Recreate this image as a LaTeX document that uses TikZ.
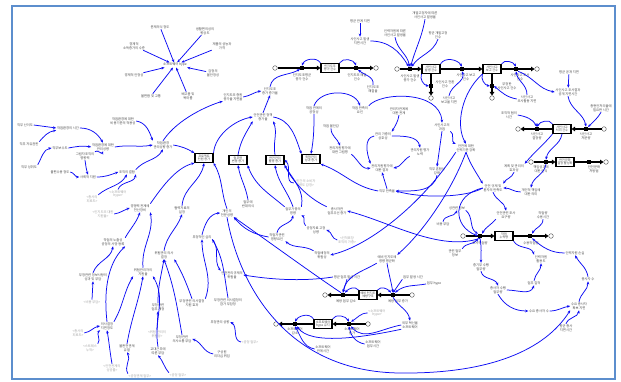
\documentclass[tikz,border=0pt]{standalone}
\usepackage{fontspec}
\setmainfont{Noto Sans CJK KR}
\usetikzlibrary{arrows.meta}
\definecolor{framecol}{RGB}{92,142,205}
\definecolor{linkcol}{RGB}{12,12,245}
\definecolor{txt}{RGB}{72,72,72}
\definecolor{ghost}{RGB}{165,165,165}
\tikzset{
  lbl/.style={font=\fontsize{3.3}{3.9}\selectfont, text=txt, align=center, inner sep=0.6pt},
  ghostlbl/.style={lbl, text=ghost},
  stockbox/.style={draw=black, line width=1.1pt, fill=white, minimum width=18pt, minimum height=9pt,
    inner sep=0.5pt, font=\fontsize{3.1}{3.6}\selectfont, text=txt, align=center},
  valve/.style={fill=black, minimum width=3.6pt, minimum height=4.2pt, inner sep=0pt},
  cloudc/.style={circle, draw=black!70, line width=0.4pt, fill=white, minimum size=4.6pt, inner sep=0pt},
  pipe/.style={line width=2pt, black, -{Triangle[length=3.5pt,width=4.6pt]}},
  lnk/.style={linkcol, line width=0.75pt, -{Stealth[length=3.2pt,width=2.6pt]}},
}
\begin{document}
\begin{tikzpicture}[x=1pt,y=1pt]
\useasboundingbox (0,0) rectangle (621,-382);
\fill[white] (0,0) rectangle (621,-382);
\draw[framecol, line width=2.6pt] (12,-6) rectangle (615,-379);

% ---------- hype star ----------
\node[lbl] (hub) at (175,-65) {소프트웨어 hype};
\node[lbl] (st1) at (160,-27) {문제의식 정도};
\node[lbl] (st2) at (205,-31) {생활편의성의\\향상도};
\node[lbl] (st3) at (222,-46) {제품의 성능과\\가격};
\node[lbl] (st4) at (134,-46) {경제적\\소득증가의 수준};
\node[lbl] (st5) at (134,-75) {경제적 안정성};
\node[lbl] (st6) at (151,-96) {불편함 및 고통};
\node[lbl] (st7) at (188,-96) {배고픔 및\\목마름};
\node[lbl] (st8) at (213,-73) {감정의\\불안정성};
\foreach \i in {1,...,8} \draw[lnk] (st\i) -- (hub);

% ---------- stocks, clouds ----------
\node[cloudc] (cA1) at (275,-68) {};
\node[stockbox] (SA) at (330,-68) {인지도조\\평가 건수};
\node[cloudc] (cA2) at (376,-68) {};
\node[cloudc] (cB1) at (397,-69) {};
\node[stockbox] (SB) at (431,-69) {사인사고\\발생 건수};
\node[cloudc] (cB2) at (431,-98) {};
\node[stockbox] (SC) at (492,-69) {사인사고\\보고 건수};
\node[cloudc] (cC1) at (537,-69) {};
\node[cloudc] (cC2) at (492,-98) {};
\node[stockbox] (SD) at (562,-129) {사인사고\\처리 건수};
\node[cloudc] (cD1) at (604,-129) {};
\node[cloudc] (cD2) at (518,-129) {};
\node[stockbox] (SE) at (565,-162) {안전문화\\결정 활성화};
\node[cloudc] (cE1) at (531,-162) {};
\node[cloudc] (cE2) at (606,-162) {};
\node[stockbox] (SF) at (504,-236) {작업\\누락량};
\node[cloudc] (cF1) at (463,-236) {};
\node[cloudc] (cF2) at (551,-236) {};
\node[stockbox] (SG) at (368,-295) {예비 인지도\\예방구조};
\node[cloudc] (cG1) at (412,-295) {};
\node[cloudc] (cG2) at (325,-295) {};
\node[stockbox] (SH) at (323,-324) {소프트웨어\\hype 유지};
\node[cloudc] (cH1) at (368,-324) {};
\node[cloudc] (cH2) at (276,-324) {};
\node[stockbox] (B1) at (204,-158) {프로젝트\\인원 증가};
\node[stockbox] (B2) at (238,-160) {업무량\\변동 증가};
\node[stockbox] (B3) at (275,-160) {안전관리\\활동 증가};
\node[stockbox] (B4) at (311,-159) {위험관리\\성과 증가};

% ---------- pipes ----------
\draw[pipe] (cA1) -- (SA);
\draw[pipe] (SA) -- (cA2);
\draw[pipe] (cB1) -- (SB);
\draw[pipe] (SB) -- (SC);
\draw[pipe] (SB) -- (cB2);
\draw[pipe] (SC) -- (cC1);
\draw[pipe] (SC) -- (cC2);
\draw[pipe] (cD1) -- (SD);
\draw[pipe] (SD) -- (cD2);
\draw[pipe] (cE1) -- (SE);
\draw[pipe] (SE) -- (cE2);
\draw[pipe] (cF1) -- (SF);
\draw[pipe] (SF) -- (cF2);
\draw[pipe] (cG1) -- (SG);
\draw[pipe] (SG) -- (cG2);
\draw[pipe] (cH1) -- (SH);
\draw[pipe] (SH) -- (cH2);

% ---------- valves ----------
\node[valve] (vA1) at (302,-68) {};
\node[valve] (vA2) at (356,-68) {};
\node[valve] (vB1) at (410,-69) {};
\node[valve] (vB2) at (431,-86) {};
\node[valve] (vB3) at (462,-69) {};
\node[valve] (vC1) at (516,-69) {};
\node[valve] (vC2) at (492,-86) {};
\node[valve] (vD1) at (586,-129) {};
\node[valve] (vD2) at (537,-129) {};
\node[valve] (vE1) at (546,-162) {};
\node[valve] (vE2) at (589,-162) {};
\node[valve] (vF1) at (480,-236) {};
\node[valve] (vF2) at (530,-236) {};
\node[valve] (vG1) at (393,-295) {};
\node[valve] (vG2) at (343,-295) {};
\node[valve] (vH1) at (349,-324) {};
\node[valve] (vH2) at (295,-324) {};

% ---------- flow labels ----------
\node[lbl] at (302,-77) {인지도조평균\\증가 건수};
\node[lbl] at (357,-77) {인지도조 해결\\건수};
\node[lbl] at (410,-78) {사인사고 발생\\증가 건수};
\node[lbl] at (445,-84) {사인사고 전환\\건수};
\node[lbl] at (466,-77) {사인사고 보고\\건수};
\node[lbl] at (520,-77) {사인사고 조사\\건수};
\node[lbl] at (507,-86) {부정한\\사인사고 건수};
\node[lbl] at (586,-136) {사인사고\\처분량};
\node[lbl] at (537,-136) {사인사고\\결정량};
\node[lbl] at (541,-169) {책임성과에\\대한 인식};
\node[lbl] at (594,-169) {안전문화\\처방법};
\node[lbl] at (480,-243) {조사작업량};
\node[lbl] at (531,-243) {수용작업량};
\node[lbl] at (346,-301) {예방 업무 감소};
\node[lbl] at (398,-301) {예방 업무 증가};
\node[lbl] at (295,-331) {소프트웨어\\감소};
\node[lbl] at (352,-331) {소프트웨어\\증가};

% ---------- top variables ----------
\node[lbl] (c7) at (270,-91) {인지도조\\증가 증가율};
\node[lbl] (c8) at (233,-97) {인지도조 증원\\증가율 지연율};
\node[lbl] (c9) at (263,-117) {안전관련 정책\\증가율};
\node[lbl] (t1) at (373,-89) {인지도조\\해결율};
\node[lbl] (t2) at (360,-21) {평균 관계 지연};
\node[lbl] (t3) at (360,-41) {사인사고 발생\\지연시간};
\node[lbl] (t4) at (395,-33) {인력자원에 따른\\사인사고 발생율};
\node[lbl] (t5) at (425,-15) {개발고정자에 따른\\사인사고 발생율};
\node[lbl] (t6) at (438,-35) {평균 개발고정\\건수};
\node[lbl] (t7) at (527,-99) {사인사고\\조사활동 지연};
\node[lbl] (t8) at (449,-100) {사인사고\\보고율 지연};
\node[lbl] (t9) at (569,-72) {평균 공개 지연};
\node[lbl] (t10) at (568,-92) {사인사고 조사결과\\공개 지연시간};
\node[lbl] (t11) at (601,-108) {총현안처리율에\\필요한 시간};
\node[lbl] (t12) at (509,-115) {조직적 협의\\시간};

% ---------- middle variables ----------
\node[lbl] (m1) at (314,-110) {작업 관계의\\공정성};
\node[lbl] (m2) at (360,-110) {작업 만족의\\요인};
\node[lbl] (m3) at (331,-126) {작업 불안감};
\node[lbl] (m4) at (399,-111) {관리자관계에\\대한 관계};
\node[lbl] (m5) at (383,-136) {관리 가중의\\상호성};
\node[lbl] (m6) at (340,-150) {관리자원평가에\\대한 그림평};
\node[lbl] (m7) at (420,-152) {관리자원 평가\\노력};
\node[lbl] (m8) at (382,-168) {관리자원평가에\\대한 결과};
\node[lbl] (m9) at (437,-171) {직무 혼합성\\강화};
\node[lbl] (m10) at (387,-191) {직무 만족율};
\node[lbl] (m12) at (442,-127) {사인사고의\\과업};
\node[lbl] (m13) at (466,-148) {안전에 대한\\인력기준 강화};
\node[lbl] (m14) at (337,-211) {총사자관\\업무우선 증가};
\node[ghostlbl] (g13) at (347,-240) {<인적표장\\조직의 가중>};
\node[lbl] (m16) at (316,-230) {공정자료 고정\\성향};
\node[lbl] (n1) at (322,-255) {작업배정의\\위험성};
\node[lbl] (m17) at (455,-253) {관련 업무\\정보};
\node[lbl] (m18) at (457,-208) {성관련 정보};
\node[lbl] (m19) at (443,-224) {비용 부담};

% ---------- right variables ----------
\node[lbl] (r1) at (514,-168) {계획 및 관리의\\효과성};
\node[lbl] (r3) at (493,-188) {안전 규제 및\\환자의 만족도};
\node[lbl] (r4) at (531,-192) {개인적 책임에\\대한 의미};
\node[lbl] (r5) at (506,-215) {안전관련 조사\\요구량};
\node[lbl] (r6) at (543,-215) {작업량\\수용시간};
\node[lbl] (r7) at (575,-253) {인력자원 손실};
\node[lbl] (r8) at (541,-259) {인력자원\\활용도};
\node[lbl] (r9) at (481,-267) {중기부 수행\\업무량};
\node[lbl] (r10) at (498,-290) {종사자 수행\\업무량};
\node[lbl] (r11) at (534,-283) {업무 질적};
\node[lbl] (r12) at (588,-279) {종사자 수};
\node[lbl] (r13) at (539,-311) {수요 종사자 수};
\node[lbl] (r14) at (579,-306) {수요 종사자\\확보 지연};
\node[lbl] (r15) at (566,-328) {평균 종사\\지연시간};

% ---------- centre variables ----------
\node[lbl] (c1) at (182,-210) {협력자료의\\설정};
\node[lbl] (c2) at (227,-213) {개인의\\전문성향};
\node[lbl] (c3) at (248,-204) {업무에\\반대의식};
\node[lbl] (c4) at (293,-211) {업무가중의\\영향};
\node[ghostlbl] (g12) at (305,-183) {<민간의 소비자\\영향도 감정>};
\node[lbl] (c5) at (277,-237) {작업자관련\\영향요인};
\node[lbl] (c6) at (202,-237) {부정적인 심리};

% ---------- left variables ----------
\node[lbl] (l1) at (25,-125) {직무 난이도};
\node[lbl] (l2) at (68,-128) {작업환경의 시간};
\node[lbl] (l3) at (29,-144) {직무 자유권한};
\node[lbl] (l4) at (29,-167) {직무 성취도};
\node[lbl] (l5) at (60,-148) {직무보수도};
\node[lbl] (l6) at (103,-147) {작업환경에 대한\\관리성향};
\node[lbl] (l7) at (123,-121) {작업환경에 대한\\비용기준의 적용성};
\node[lbl] (l8) at (85,-156) {그림자조직의\\영향력};
\node[lbl] (l9) at (60,-172) {불편수용 정도};
\node[lbl] (l10) at (88,-177) {사회적 지원};
\node[lbl] (l11) at (127,-172) {조직의 결합};
\node[lbl] (l12) at (163,-145) {작업환경\\관리성향 증가};
\node[ghostlbl] (g1) at (92,-199) {<총사의\\피로도>};
\node[ghostlbl] (g2) at (118,-194) {<소프트웨어\\hype>};
\node[ghostlbl] (g3) at (103,-214) {<인지도조 대한\\지원율>};
\node[lbl] (l13) at (140,-208) {경쟁력 관계에\\전산장비};
\node[lbl] (l14) at (113,-242) {작업의 노출성\\공정의 사망 등록};
\node[lbl] (l15) at (143,-272) {위험관리자의\\지원율};
\node[lbl] (l16) at (93,-277) {부정관련 정보사항의\\성과 및 부담};
\node[ghostlbl] (g4) at (92,-302) {<비용 부담>};
\node[lbl] (l17) at (107,-326) {의사결정\\지연정도};
\node[ghostlbl] (g5) at (78,-333) {<총사의\\피로도>};
\node[ghostlbl] (g6) at (90,-348) {<스트레스\\누적>};
\node[ghostlbl] (g7) at (112,-368) {<안전관계의\\성공률>};
\node[lbl] (l18) at (127,-348) {불완전관계\\유발};
\node[ghostlbl] (g8) at (140,-376) {<공정관계 업무>};
\node[ghostlbl] (g9) at (157,-334) {<위험 관리의\\위험성>};
\node[lbl] (l19) at (158,-351) {교대근무에\\따른 부담};
\node[lbl] (l20) at (164,-255) {위험관리 의사\\결정};
\node[lbl] (l21) at (158,-307) {부정관련\\업무 개정};
\node[lbl] (l22) at (192,-303) {부정관련 의사결정\\지원 효과};
\node[lbl] (l23) at (182,-339) {부정관련\\의사소통 부담};
\node[lbl] (l24) at (228,-302) {부정관련 의사결정의\\참가 부담정};
\node[lbl] (l25) at (220,-322) {부정관리 성향};
\node[ghostlbl] (g10) at (250,-342) {<공정 업무>};
\node[lbl] (l26) at (222,-354) {구성원\\리더십 위임};
\node[ghostlbl] (g11) at (178,-375) {<공정 업무>};
\node[lbl] (l27) at (232,-275) {안전관리규제의\\위험율};

% ---------- lower centre variables ----------
\node[lbl] (u1) at (387,-259) {예비 인지도에\\영향 평균화};
\node[lbl] (u2) at (347,-277) {평균 업무 발생 시간};
\node[lbl] (u3) at (413,-277) {업무 발생 시간};
\node[lbl] (u4) at (434,-284) {업무 hype};
\node[lbl] (u5) at (410,-325) {외부 혁신율\\소프트웨어};
\node[ghostlbl] (g14) at (377,-313) {<소프트웨어\\hype>};
\node[lbl] (u6) at (373,-344) {소프트웨어\\업무시간};
\node[lbl] (u7) at (323,-349) {소프트웨어\\관계시간};

% ---------- links: top ----------
\draw[lnk] (c8.east) to[out=10,in=190] (c7.west);
\draw[lnk] (c9.north) -- (c7.south);
\draw[lnk] (c7.north) to[out=80,in=-150] (vA1);
\draw[lnk] (SA.north west) to[out=120,in=70] (vA1.north);
\draw[lnk] (SA.north east) to[out=60,in=110] (vA2.north);
\draw[lnk] (t1.north) to[out=80,in=-40] (vA2);
\draw[lnk] (t2) -- (t3);
\draw[lnk] (t3.east) to[out=0,in=120] (vB1);
\draw[lnk] (t4.south) to[out=-80,in=100] (vB1);
\draw[lnk] (t5.south) to[out=-100,in=75] (vB1);
\draw[lnk] (t6.south) to[out=-110,in=55] (vB1);
\draw[lnk] (SB.north east) to[out=60,in=120] (vB3.north);
\draw[lnk] (SC.north east) to[out=60,in=120] (vC1.north);
\draw[lnk] (SB.south west) to[out=-110,in=170] (vB2.west);
\draw[lnk] (SC.south west) to[out=-110,in=170] (vC2.west);
\draw[lnk] (t8.north) to[out=80,in=-70] (vB3.south);
\draw[lnk] (t7.north) to[out=90,in=-80] (vC1.south);
\draw[lnk] (t7.west) to[out=170,in=-40] (vC2.east);
\draw[lnk] (vC1.south east) to[out=-20,in=170] (t10.west);
\draw[lnk] (t9) -- (t10);
\draw[lnk] (t10.south) to[out=-80,in=100] (vD1.north);
\draw[lnk] (t11.south) to[out=-120,in=45] (vD1);
\draw[lnk] (t12.east) to[out=-10,in=120] (vD2.north);
\draw[lnk] (SD.north west) to[out=120,in=60] (vD2.north);
\draw[lnk] (SC.south west) .. controls (462,-92) and (455,-125) .. (m13.north);
\draw[lnk] (m12.south) -- (m9.north);
\draw[lnk] (m12.south east) to[out=-30,in=160] (m13.north west);

% ---------- links: middle ----------
\draw[lnk] (m1.north) to[out=70,in=110] (m2.north);
\draw[lnk] (m2.north east) .. controls (380,-92) and (440,-90) .. (m12.north);
\draw[lnk] (m1.south) to[out=-90,in=80] (B4.north);
\draw[lnk] (m3.south) to[out=-90,in=110] (m6.north);
\draw[lnk] (m4.south) to[out=-100,in=60] (m5.north east);
\draw[lnk] (m5.west) to[out=190,in=110] (m8.north west);
\draw[lnk] (m5.east) to[out=0,in=100] (m7.north);
\draw[lnk] (m7.south west) to[out=-150,in=10] (m8.east);
\draw[lnk] (m10.north) -- (m8.south);
\draw[lnk] (m6.south east) to[out=-40,in=190] (m8.west);
\draw[lnk] (m9.south) to[out=-100,in=0] (m10.east);
\draw[lnk] (m10.west) to[out=170,in=-20] (B4.south east);
\draw[lnk] (r3.west) .. controls (468,-197) and (425,-199) .. (m10.east);
\draw[lnk] (m14.north west) .. controls (312,-200) and (295,-186) .. (B3.south east);
\draw[lnk] (vF1.south) .. controls (440,-252) and (390,-222) .. (m14.east);
\draw[lnk] (g13.west) to[out=170,in=-20] (m16.east);
\draw[lnk] (m16.north west) to[out=140,in=-30] (c4.south east);
\draw[lnk] (n1.north west) to[out=150,in=-40] (c5.south east);
\draw[lnk] (m19.north) to[out=80,in=-110] (m18.south);
\draw[lnk] (m18.south east) to[out=-40,in=150] (vF1.north west);
\draw[lnk] (m17.north east) to[out=60,in=-120] (vF1.south west);
\draw[lnk] (u2.west) .. controls (300,-282) and (268,-279) .. (l27.east);
\draw[lnk] (m13.south) .. controls (450,-195) and (420,-235) .. (u1.north east);
\draw[lnk] (m13.south west) .. controls (425,-200) and (372,-245) .. (n1.east);

% ---------- links: right ----------
\draw[lnk] (SD.south west) to[out=-130,in=50] (r1.north east);
\draw[lnk] (SD.south) to[out=-100,in=80] (vE1.north);
\draw[lnk] (vE1.south) to[out=-100,in=80] (r4.north);
\draw[lnk] (r4.west) to[out=180,in=0] (r3.east);
\draw[lnk] (r1.south) to[out=-110,in=60] (r3.north east);
\draw[lnk] (m13.south) to[out=-70,in=120] (r3.north west);
\draw[lnk] (r3.south) to[out=-70,in=100] (r5.north);
\draw[lnk] (r5.south west) to[out=-130,in=60] (vF1.north east);
\draw[lnk] (r3.west) .. controls (452,-195) and (452,-226) .. (vF1.west);
\draw[lnk] (r6.south) to[out=-90,in=60] (vF2.north east);
\draw[lnk] (r7.west) to[out=180,in=-40] (vF2.south east);
\draw[lnk] (vF1.south) to[out=-80,in=90] (r9.north);
\draw[lnk] (SF.south east) to[out=-60,in=110] (r8.north west);
\draw[lnk] (r9.south) to[out=-80,in=110] (r10.north);
\draw[lnk] (r10.east) to[out=0,in=-110] (r11.south);
\draw[lnk] (r11.north) to[out=80,in=-90] (r8.south);
\draw[lnk] (r10.south) to[out=-60,in=180] (r13.west);
\draw[lnk] (r13.east) to[out=0,in=190] (r14.west);
\draw[lnk] (r15.north) to[out=70,in=-100] (r14.south);
\draw[lnk] (r14.north) to[out=80,in=-90] (r12.south);
\draw[lnk] (r12.north) to[out=100,in=-60] (r7.south);
\draw[lnk] (c2.south) .. controls (240,-290) and (290,-372) .. (400,-373)
  .. controls (490,-374) and (545,-350) .. (r14.south west);

% ---------- links: centre stocks ----------
\draw[lnk] (l12.east) to[out=-10,in=150] (B1.north west);
\draw[lnk] (l13.north east) .. controls (160,-190) and (175,-168) .. (B1.south west);
\draw[lnk] (c1.north) to[out=85,in=-100] (B1.south);
\draw[lnk] (c2.north) to[out=110,in=-60] (B1.south east);
\draw[lnk] (c3.north) to[out=100,in=-80] (B2.south);
\draw[lnk] (c4.north west) to[out=140,in=-70] (B2.south east);
\draw[lnk] (c4.north) to[out=110,in=-80] (B3.south);
\draw[lnk] (c4.north east) to[out=80,in=-60] (B3.south east);
\draw[lnk] (g12.west) to[out=180,in=-40] (B3.east);
\draw[lnk] (c5.north) to[out=80,in=-100] (c4.south);
\draw[lnk] (c5.west) to[out=170,in=-50] (c2.south east);
\draw[lnk] (vG2.north west) .. controls (310,-272) and (258,-234) .. (c2.south east);
\draw[lnk] (B1.north east) .. controls (215,-135) and (235,-120) .. (c9.west);
\draw[lnk] (B2.north) to[out=80,in=-120] (c9.south west);
\draw[lnk] (B3.north) to[out=100,in=-70] (c9.south east);
\draw[lnk] (c9.east) to[out=-10,in=110] (B4.north west);
\draw[lnk] (l12.north) .. controls (178,-118) and (210,-105) .. (c8.south west);

% ---------- links: left ----------
\draw[lnk] (l1.east) -- (l2.west);
\draw[lnk] (l3.north east) to[out=50,in=-170] (l2.south west);
\draw[lnk] (l2.east) to[out=0,in=120] (l6.north);
\draw[lnk] (l4.north east) to[out=60,in=190] (l5.west);
\draw[lnk] (l5.east) to[out=10,in=170] (l6.west);
\draw[lnk] (l8.north east) to[out=50,in=-110] (l6.south);
\draw[lnk] (l8.south) to[out=-80,in=110] (l10.north);
\draw[lnk] (l9.east) to[out=-10,in=180] (l10.west);
\draw[lnk] (l10.east) to[out=0,in=-160] (l11.west);
\draw[lnk] (g1.north east) to[out=40,in=-120] (l11.south);
\draw[lnk] (g2.north) to[out=70,in=-100] (l11.south east);
\draw[lnk] (l11.north east) to[out=50,in=-120] (l12.south);
\draw[lnk] (l6.east) to[out=10,in=-170] (l12.west);
\draw[lnk] (l7.east) to[out=-10,in=110] (l12.north west);
\draw[lnk] (g3.east) to[out=10,in=-160] (l13.west);
\draw[lnk] (l14.north east) to[out=60,in=-110] (l13.south);
\draw[lnk] (l15.north) to[out=95,in=-80] (l13.south east);
\draw[lnk] (l16.north) to[out=70,in=-100] (l14.south);
\draw[lnk] (g4.north) -- (l16.south);
\draw[lnk] (l17.north) .. controls (104,-295) and (106,-265) .. (l14.south east);
\draw[lnk] (l17.north east) to[out=60,in=-120] (l15.south west);
\draw[lnk] (g5.east) to[out=10,in=190] (l17.west);
\draw[lnk] (g6.north east) to[out=50,in=-140] (l17.south west);
\draw[lnk] (g7.north) to[out=100,in=-80] (l17.south);
\draw[lnk] (l18.north) to[out=80,in=-100] (l15.south);
\draw[lnk] (g8.north west) to[out=120,in=-60] (l18.south);
\draw[lnk] (l19.north) to[out=100,in=-60] (l15.south east);
\draw[lnk] (g9.north) -- (l21.south);
\draw[lnk] (g11.north west) to[out=130,in=-50] (l19.south);
\draw[lnk] (l21.north) to[out=90,in=-100] (l20.south);
\draw[lnk] (l22.north) to[out=110,in=-60] (l20.south east);
\draw[lnk] (l23.north) to[out=100,in=-70] (l20.south);
\draw[lnk] (l26.west) to[out=170,in=-20] (l23.east);
\draw[lnk] (g10.west) to[out=170,in=-30] (l25.east);
\draw[lnk] (l20.north) to[out=80,in=-110] (c1.south);
\draw[lnk] (l22.north east) to[out=70,in=-90] (c6.south);
\draw[lnk] (l24.north) to[out=100,in=-60] (c6.south east);
\draw[lnk] (c6.north) to[out=75,in=185] (c2.west);
\draw[lnk] (c6.south east) to[out=-50,in=125] (l27.north west);

% ---------- links: lower centre ----------
\draw[lnk] (u1.south west) to[out=-150,in=80] (vG2.north);
\draw[lnk] (u1.south) to[out=-80,in=100] (vG1.north);
\draw[lnk] (u2.south) -- (vG2.north);
\draw[lnk] (u3.south west) -- (vG1.north);
\draw[lnk] (u4.west) to[out=190,in=40] (vG1.north east);
\draw[lnk] (SG.north west) to[out=130,in=50] (vG2.north east);
\draw[lnk] (SG.north east) to[out=50,in=130] (vG1.north west);
\draw[lnk] (vG1.south) to[out=-60,in=100] (u5.north);
\draw[lnk] (u5.west) to[out=190,in=-50] (vH1.south east);
\draw[lnk] (g14.west) to[out=180,in=30] (vH1.north east);
\draw[lnk] (u6.west) to[out=170,in=-80] (vH1.south);
\draw[lnk] (SH.north east) to[out=60,in=120] (vH1.north);
\draw[lnk] (SH.north west) to[out=120,in=60] (vH2.north);
\draw[lnk] (u7.west) to[out=170,in=-60] (vH2.south);
\draw[lnk] (u5.south west) .. controls (360,-338) and (310,-345) .. (vH2.south east);
\end{tikzpicture}
\end{document}
